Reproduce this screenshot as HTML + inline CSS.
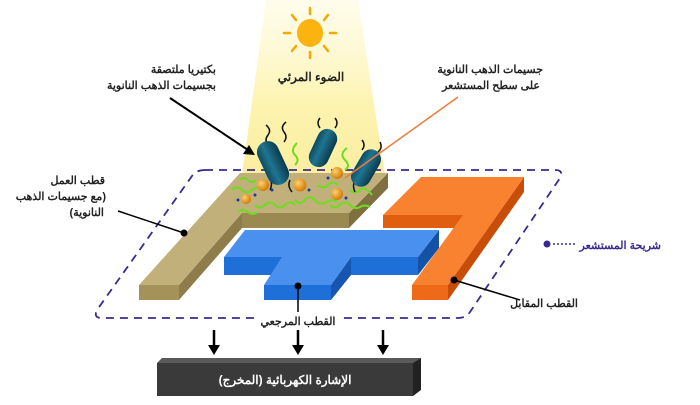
<!DOCTYPE html>
<html><head><meta charset="utf-8"><style>
body{margin:0;background:#fff;}
svg text{font-family:"Liberation Sans","Noto Sans CJK SC",sans-serif;font-weight:bold;}
</style></head><body>
<svg width="700" height="400" viewBox="0 0 700 400" xmlns="http://www.w3.org/2000/svg">
<defs>
<linearGradient id="beam" x1="0" y1="0" x2="0" y2="1">
<stop offset="0" stop-color="#fffbe0" stop-opacity="0.6"/><stop offset="0.6" stop-color="#fdf3b0"/><stop offset="1" stop-color="#fbeea0"/></linearGradient>
<radialGradient id="gold" cx="0.35" cy="0.35" r="0.7"><stop offset="0" stop-color="#ffd070"/><stop offset="1" stop-color="#d07800"/></radialGradient>
<linearGradient id="bac" x1="0" y1="0" x2="1" y2="0"><stop offset="0" stop-color="#0d4a60"/><stop offset="0.4" stop-color="#1f7590"/><stop offset="1" stop-color="#0b3a4c"/></linearGradient>
</defs>
<polygon points="266,0 358,0 385,175 242,175" fill="url(#beam)"/>
<g stroke="#f5a800" stroke-width="2.5" stroke-linecap="round">
<line x1="310" y1="8" x2="310" y2="14"/><line x1="310" y1="52" x2="310" y2="58"/>
<line x1="284" y1="33" x2="290" y2="33"/><line x1="330" y1="33" x2="336" y2="33"/>
<line x1="292" y1="15" x2="296" y2="20"/><line x1="324" y1="46" x2="328" y2="51"/>
<line x1="328" y1="15" x2="324" y2="20"/><line x1="296" y1="46" x2="292" y2="51"/>
</g>
<ellipse cx="310" cy="33" rx="13" ry="14" fill="#fbb40f"/>
<text x="311" y="81" font-size="12" text-anchor="middle" fill="#222">الضوء المرئي</text>
<text x="216" y="73" font-size="11" text-anchor="end" fill="#222">بكتيريا ملتصقة</text>
<text x="216" y="89" font-size="11" text-anchor="end" fill="#222">بجسيمات الذهب النانوية</text>
<text x="543" y="73" font-size="11" text-anchor="end" fill="#222">جسيمات الذهب النانوية</text>
<text x="540" y="89" font-size="11" text-anchor="end" fill="#222">على سطح المستشعر</text>
<path d="M205,170 L555,170 Q564,170 560,178 L470,312 Q466,318 458,318 L102,318 Q93,318 97,310 L192,176 Q196,170 205,170Z" fill="none" stroke="#3a2a90" stroke-width="1.8" stroke-dasharray="8,6"/>
<polygon points="139,285 179,285 179,300 139,300" fill="#a4925a"/>
<polygon points="179,285 242,213 242,228 179,300" fill="#8e7d4a"/>
<polygon points="242,213 349,213 349,228 242,228" fill="#9a8950"/>
<polygon points="349,213 388,173 388,188 349,228" fill="#7f7040"/>
<polygon points="240,173 388,173 349,213 242,213 179,285 139,285" fill="#c2b07a"/>
<polygon points="224,257 282,257 282,275 224,275" fill="#1f6fd8"/>
<polygon points="264,285 331,285 331,300 264,300" fill="#1f6fd8"/>
<polygon points="331,285 351,257 351,275 331,300" fill="#1656b0"/>
<polygon points="351,257 418,257 418,275 351,275" fill="#1f6fd8"/>
<polygon points="418,257 439,230 439,248 418,275" fill="#1452a8"/>
<polygon points="245,230 439,230 418,257 351,257 331,285 264,285 282,257 224,257" fill="#4a90ee"/>
<polygon points="383,215 463,215 463,228 383,228" fill="#e05e10"/>
<polygon points="412,285 448,285 448,300 412,300" fill="#ee6a18"/>
<polygon points="448,285 524,177 524,192 448,300" fill="#c84e08"/>
<polygon points="421,177 524,177 448,285 412,285 463,215 383,215" fill="#f98230"/>
<!-- bacteria & particles -->
<g fill="none" stroke="#6edc20" stroke-width="2">
<path d="M232,190 q6,-5 10,0 t10,0 t10,0"/><path d="M255,205 q5,5 10,0 t10,0 t10,0 t10,0"/>
<path d="M295,200 q5,6 10,0 t10,0 t12,2 t10,0"/><path d="M330,205 q5,5 10,0 t10,0 t10,2 t10,0"/>
<path d="M295,165 q5,-5 0,-10 t2,-12"/><path d="M345,170 q6,-4 0,-10 t2,-12"/>
<path d="M350,190 q5,5 10,0 t12,5"/><path d="M238,212 q5,-4 10,0 t10,0"/>
<path d="M240,180 q4,-4 8,0 t8,0"/><path d="M318,185 q5,5 10,0 t10,0"/>
</g>
<g stroke="#111" stroke-width="1.5" fill="none">
<path d="M268,145 q-4,-5 0,-10 t-2,-10"/><path d="M284,142 q4,-5 0,-10 t2,-10"/>
<path d="M320,128 q-4,-5 0,-10"/><path d="M335,128 q4,-5 0,-10"/>
<path d="M362,150 q4,-5 0,-10"/><path d="M378,152 q5,-4 2,-10"/>
<path d="M290,180 q-3,6 2,12"/><path d="M355,180 q-3,6 0,12"/><path d="M270,178 q3,6 0,12"/>
</g>
<g fill="url(#bac)">
<rect x="262" y="140" width="22" height="46" rx="11" transform="rotate(-25 273 163)"/>
<rect x="313" y="128" width="20" height="40" rx="10" transform="rotate(25 323 148)"/>
<rect x="356" y="148" width="20" height="40" rx="10" transform="rotate(30 366 168)"/>
</g>
<g fill="url(#gold)">
<circle cx="246" cy="199" r="5"/><circle cx="263" cy="185" r="6"/><circle cx="300" cy="185" r="6.5"/>
<circle cx="337" cy="173" r="6"/><circle cx="337" cy="194" r="6"/>
</g>
<g fill="#1a3aa0"><circle cx="255" cy="195" r="1.5"/><circle cx="272" cy="190" r="1.5"/><circle cx="309" cy="190" r="1.5"/><circle cx="346" cy="198" r="1.5"/><circle cx="328" cy="178" r="1.5"/><circle cx="238" cy="200" r="1.5"/></g>
<line x1="170" y1="98" x2="248" y2="150" stroke="#000" stroke-width="2"/>
<polygon points="255,155 243,154 249,145" fill="#000"/>
<line x1="458" y1="97" x2="345" y2="178" stroke="#f07a3a" stroke-width="1.5"/>
<text x="105" y="184" font-size="11" text-anchor="end" fill="#222">قطب العمل</text>
<text x="106" y="200" font-size="11" text-anchor="end" fill="#222">&#x200F;(مع جسيمات الذهب&#x200F;</text>
<text x="104" y="216" font-size="11" text-anchor="end" fill="#222">&#x200F;النانوية)&#x200F;</text>
<line x1="118" y1="211" x2="184" y2="233" stroke="#000" stroke-width="1.5"/><circle cx="184" cy="233" r="3.5" fill="#000"/>
<line x1="454" y1="280" x2="520" y2="300" stroke="#000" stroke-width="1.5"/><circle cx="454" cy="280" r="3.5" fill="#000"/>
<text x="578" y="307" font-size="11" text-anchor="end" fill="#222">القطب المقابل</text>
<line x1="298" y1="286" x2="298" y2="312" stroke="#000" stroke-width="1.5"/><circle cx="298" cy="286" r="3.5" fill="#000"/>
<rect x="258" y="312" width="82" height="16" fill="#fff"/>
<text x="298" y="325" font-size="11" text-anchor="middle" fill="#222">القطب المرجعي</text>
<line x1="553" y1="244" x2="575" y2="244" stroke="#3a2a90" stroke-width="1.5" stroke-dasharray="2,2"/>
<circle cx="547" cy="244" r="3.5" fill="#3a2a90"/>
<text x="661" y="249" font-size="11" text-anchor="end" fill="#3a2a90">شريحة المستشعر</text>
<g stroke="#000" stroke-width="2.5"><line x1="214" y1="330" x2="214" y2="347"/><line x1="298" y1="330" x2="298" y2="347"/><line x1="383" y1="330" x2="383" y2="347"/></g>
<g fill="#000"><polygon points="208,345 220,345 214,355"/><polygon points="292,345 304,345 298,355"/><polygon points="377,345 389,345 383,355"/></g>
<polygon points="162,358 421,358 417,363 157,363" fill="#5a5a5a"/>
<polygon points="413,363 421,358 421,390 413,396" fill="#222"/>
<rect x="157" y="363" width="256" height="33" fill="#3a3a3a"/>
<text x="285" y="384" font-size="12" text-anchor="middle" fill="#fff">&#x200F;الإشارة الكهربائية (المخرج)&#x200F;</text>
</svg>
</body></html>
